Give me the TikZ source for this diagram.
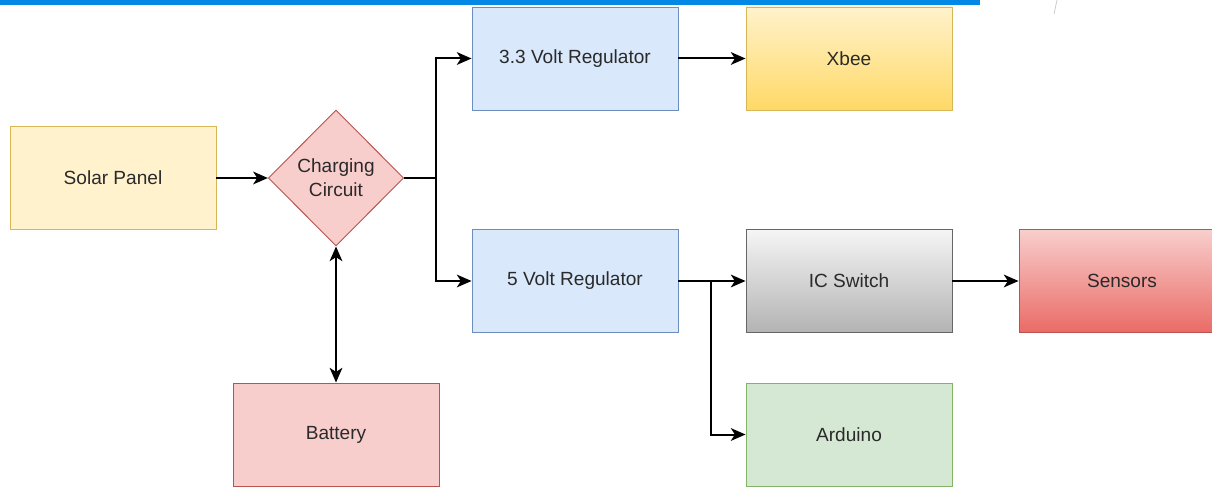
\documentclass[tikz,border=0pt]{standalone}
\usepackage{fontspec}
\setmainfont{Liberation Sans}
\usetikzlibrary{shapes.geometric,arrows.meta}
\definecolor{topbar}{RGB}{3,137,229}
\definecolor{yelfill}{HTML}{FFF2CC}
\definecolor{yelline}{HTML}{D6B656}
\definecolor{yeldark}{HTML}{FFD966}
\definecolor{redfill}{HTML}{F8CECC}
\definecolor{redline}{HTML}{B85450}
\definecolor{reddark}{HTML}{EA6B66}
\definecolor{bluefill}{HTML}{DAE8FC}
\definecolor{blueline}{HTML}{6C8EBF}
\definecolor{greenfill}{HTML}{D5E8D4}
\definecolor{greenline}{HTML}{82B366}
\definecolor{greyline}{HTML}{666666}
\definecolor{greytop}{HTML}{F5F5F5}
\definecolor{greybot}{HTML}{B3B3B3}
\definecolor{txt}{HTML}{2A2A2A}
\begin{document}
\begin{tikzpicture}[x=0.75pt,y=-0.75pt,
  box/.style={rectangle, minimum width=154.5pt, minimum height=77.25pt, inner sep=0pt,
    line width=0.7pt, text=txt, font=\fontsize{14.3}{18}\selectfont, align=center},
  dia/.style={diamond, minimum width=101.5pt, minimum height=102pt, inner sep=0pt,
    line width=0.7pt, text=txt, font=\fontsize{14.3}{18}\selectfont, align=center},
  conn/.style={line width=1.5pt, black},
  tip/.tip={Stealth[length=11pt,width=9.5pt,inset=3pt]},
  arr/.style={conn, -tip},
  arrboth/.style={conn, tip-tip}]
\clip (0,0) rectangle (1212,488);
\fill[white] (0,0) rectangle (1212,488);
\fill[topbar] (0,0) rectangle (980,5);
\draw[gray!40, line width=0.6pt] (1057,0) -- (1054,14);

\node[box, fill=yelfill, draw=yelline] (solar) at (113,178) {Solar Panel};
\node[dia, fill=redfill, draw=redline] (cc) at (336,178) {Charging\\Circuit};
\node[box, fill=bluefill, draw=blueline] (reg33) at (575,58.5) {3.3 Volt Regulator};
\node[box, top color=yelfill, bottom color=yeldark, draw=yelline] (xbee) at (849,58.5) {Xbee};
\node[box, fill=bluefill, draw=blueline] (reg5) at (575,281) {5 Volt Regulator};
\node[box, top color=greytop, bottom color=greybot, draw=greyline] (ic) at (849,281) {IC Switch};
\node[box, top color=redfill, bottom color=reddark, draw=redline] (sensors) at (1122,281) {Sensors};
\node[box, fill=greenfill, draw=greenline] (arduino) at (849,434.5) {Arduino};
\node[box, fill=redfill, draw=redline] (battery) at (336,434.5) {Battery};

\coordinate (j1) at (436,178);
\coordinate (j2) at (711,281);

\draw[arr] (solar) -- (cc);
\draw[conn] (cc.east) -- (j1);
\draw[arr] (j1) |- (reg33);
\draw[arr] (j1) |- (reg5);
\draw[arrboth] (cc) -- (battery);
\draw[arr] (reg33) -- (xbee);
\draw[arr] (reg5) -- (ic);
\draw[arr] (j2) |- (arduino);
\draw[arr] (ic) -- (sensors);
\end{tikzpicture}
\end{document}
